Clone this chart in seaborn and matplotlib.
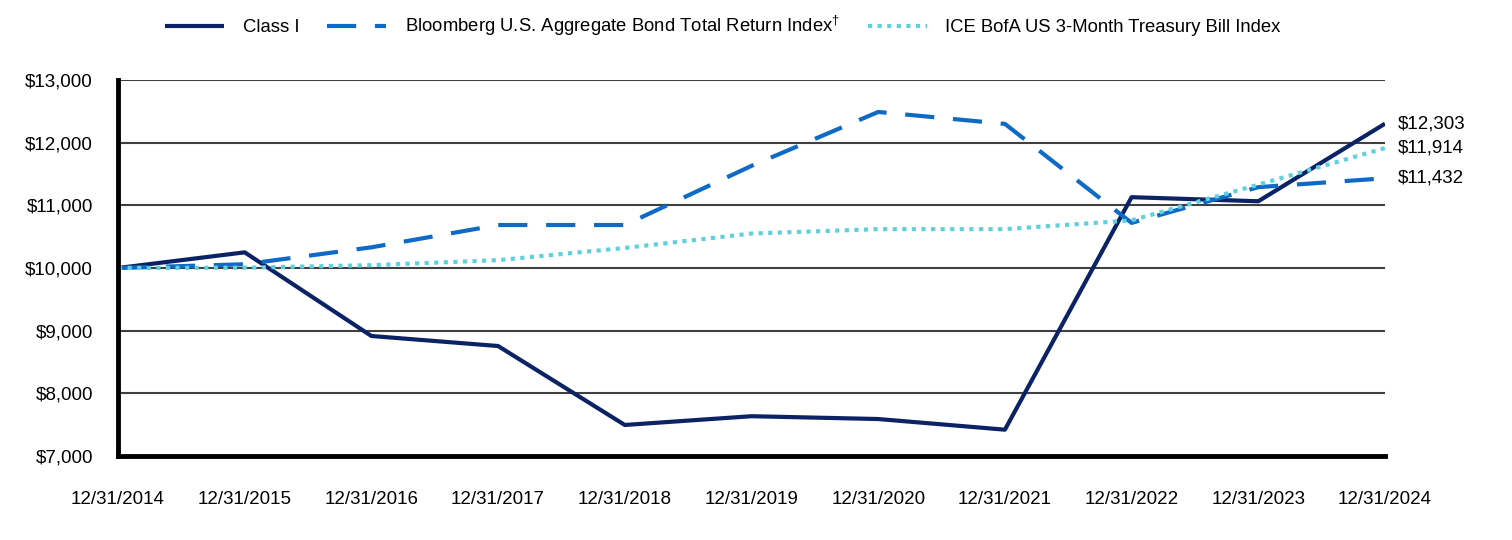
import matplotlib
matplotlib.use("Agg")
import matplotlib.pyplot as plt
import seaborn as sns
import pandas as pd
from matplotlib.ticker import FuncFormatter

dates = ["12/31/2014", "12/31/2015", "12/31/2016", "12/31/2017", "12/31/2018", "12/31/2019",
         "12/31/2020", "12/31/2021", "12/31/2022", "12/31/2023", "12/31/2024"]
class_i = [10000, 10250, 8915, 8755, 7495, 7635, 7590, 7420, 11130, 11065, 12303]
bloomberg = [10000, 10060, 10330, 10686, 10686, 11630, 12490, 12300, 10720, 11290, 11432]
ice = [10000, 10005, 10045, 10125, 10320, 10550, 10620, 10620, 10760, 11330, 11914]
series_names = ["Class I", "Bloomberg U.S. Aggregate Bond Total Return Index$^{\\dagger}$",
                "ICE BofA US 3-Month Treasury Bill Index"]
end_labels = ["$12,303", "$11,914", "$11,432"]

sns.set_theme(style="white")
plt.rcParams['font.family'] = ['Liberation Sans', 'DejaVu Sans']
plt.rcParams['text.color'] = 'black'
plt.rcParams['xtick.color'] = 'black'
plt.rcParams['ytick.color'] = 'black'
plt.rcParams['mathtext.fontset'] = 'custom'
plt.rcParams['mathtext.rm'] = 'Liberation Sans'

df = pd.DataFrame({"x": list(range(len(dates))) * 3,
                   "value": class_i + bloomberg + ice,
                   "series": [series_names[0]] * len(dates) + [series_names[1]] * len(dates) + [series_names[2]] * len(dates)})

fig = plt.figure(figsize=(15.12, 5.4), dpi=100)
ax = fig.add_axes([118 / 1512, 1 - 456 / 540, (1385 - 118) / 1512, (456 - 80) / 540])

colors = {series_names[0]: "#0B2265", series_names[1]: "#0F6AC6", series_names[2]: "#5FD0E0"}
for name, ls in zip(series_names, [(0, ()), (0, (7, 4.5)), (0, (1, 1.3))]):
    sub = df[df.series == name]
    sns.lineplot(data=sub, x="x", y="value", ax=ax, color=colors[name], linewidth=3,
                 linestyle=ls, label=name, legend=False)

ax.set_xlim(0, len(dates) - 1)
ax.set_ylim(7000, 13000)
ax.set_yticks(range(7000, 13001, 1000))
ax.yaxis.set_major_formatter(FuncFormatter(lambda v, p: f"${v:,.0f}"))
ax.set_xticks(range(len(dates)))
ax.set_xticklabels(dates)
ax.grid(axis="y", color="#404040", linewidth=1.5)
ax.set_axisbelow(True)
for s in ["top", "right"]:
    ax.spines[s].set_visible(False)
for s in ["left", "bottom"]:
    ax.spines[s].set_color("black")
    ax.spines[s].set_linewidth(3.5)
ax.tick_params(axis="x", direction="out", length=9, width=1.5, color="black", pad=16, labelsize=13.5)
ax.tick_params(axis="y", length=0, pad=18, labelsize=13.5)
ax.set_xlabel("")
ax.set_ylabel("")
for lab, yv in zip(end_labels, [class_i[-1], ice[-1], bloomberg[-1]]):
    ax.annotate(lab, xy=(len(dates) - 1, yv), xytext=(9, 0), textcoords="offset points",
                va="center", ha="left", fontsize=13.5, annotation_clip=False)

handles, labels = ax.get_legend_handles_labels()
fig.legend(handles, labels, loc="center", bbox_to_anchor=(723 / 1512, 1 - 26 / 540), ncol=3,
           frameon=False, fontsize=13.3, handlelength=3.2, handletextpad=1.0, columnspacing=1.5)

fig.savefig("out.png", dpi=100)
